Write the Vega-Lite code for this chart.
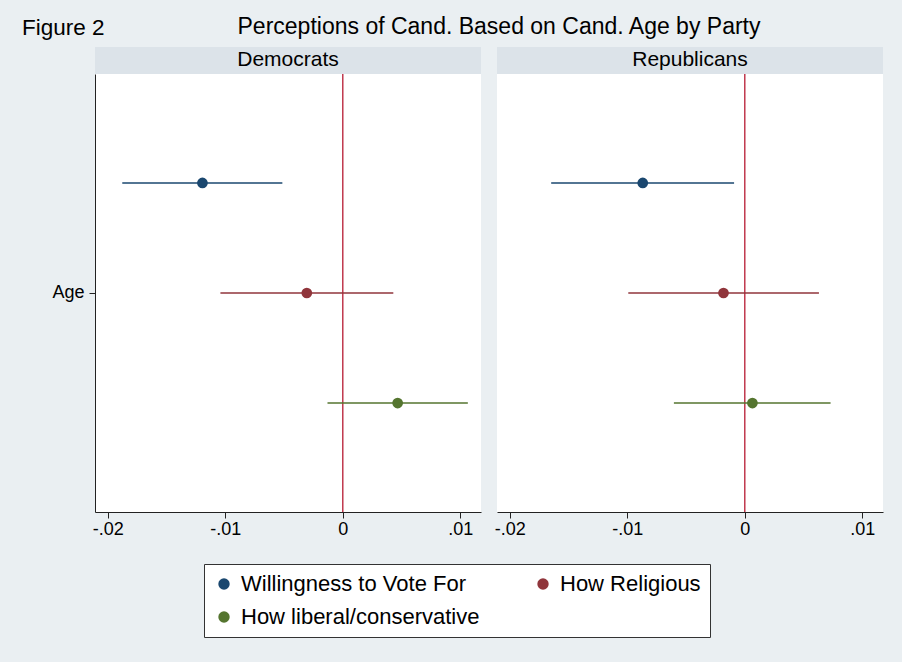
{
  "$schema": "https://vega.github.io/schema/vega-lite/v6.json",
  "background": "#eaeff2",
  "padding": {"left": 22, "top": 16, "right": 19, "bottom": 127},
  "config": {
    "font": "Liberation Sans",
    "view": {"stroke": null},
    "title": {"fontWeight": "normal", "color": "black", "font": "Liberation Sans"},
    "axis": {"grid": false, "title": null, "domainColor": "#222222", "tickColor": "#222222", "labelColor": "black", "labelFont": "Liberation Sans", "labelFontSize": 18, "tickSize": 6, "domainWidth": 1, "tickWidth": 1},
    "legend": {"labelFontSize": 22, "labelColor": "black", "labelFont": "Liberation Sans", "strokeColor": "#333333", "fillColor": "white", "padding": 9, "columnPadding": 52, "rowPadding": 11, "labelOffset": 6, "symbolSize": 130, "symbolType": "circle", "symbolStrokeWidth": 0, "labelLimit": 400}
  },
  "datasets": {
    "coefs": [
      {"party": "Democrats", "var": "Age", "outcome": "Willingness to Vote For", "est": -0.01194, "lo": -0.01876, "hi": -0.00514},
      {"party": "Democrats", "var": "Age", "outcome": "How Religious", "est": -0.00306, "lo": -0.01041, "hi": 0.0043},
      {"party": "Democrats", "var": "Age", "outcome": "How liberal/conservative", "est": 0.00467, "lo": -0.0013, "hi": 0.01064},
      {"party": "Republicans", "var": "Age", "outcome": "Willingness to Vote For", "est": -0.00868, "lo": -0.01647, "hi": -0.00091},
      {"party": "Republicans", "var": "Age", "outcome": "How Religious", "est": -0.00181, "lo": -0.00991, "hi": 0.00631},
      {"party": "Republicans", "var": "Age", "outcome": "How liberal/conservative", "est": 0.00065, "lo": -0.00603, "hi": 0.0073}
    ],
    "strips": [{"party": "Democrats"}, {"party": "Republicans"}]
  },
  "columns": 2,
  "spacing": {"row": 0, "column": 16},
  "bounds": "flush",
  "resolve": {"scale": {"color": "shared"}, "legend": {"color": "shared"}},
  "concat": [
    {
      "width": 386, "height": 27,
      "data": {"name": "strips"},
      "transform": [{"filter": "datum.party === 'Democrats'"}],
      "title": {"text": "Figure 2", "anchor": "start", "frame": "group", "dx": -73, "offset": -10, "fontSize": 22.5, "baseline": "alphabetic"},
      "view": {"fill": "#dce3e9", "stroke": null},
      "mark": {"type": "text", "fontSize": 21, "baseline": "middle", "dy": -1, "color": "black", "font": "Liberation Sans"},
      "encoding": {"text": {"field": "party"}}
    },
    {
      "width": 386, "height": 27,
      "data": {"name": "strips"},
      "transform": [{"filter": "datum.party === 'Republicans'"}],
      "title": {"text": "Perceptions of Cand. Based on Cand. Age by Party", "anchor": "middle", "frame": "group", "dx": -191, "offset": -10, "fontSize": 23, "baseline": "alphabetic"},
      "view": {"fill": "#dce3e9", "stroke": null},
      "mark": {"type": "text", "fontSize": 21, "baseline": "middle", "dy": -1, "color": "black", "font": "Liberation Sans"},
      "encoding": {"text": {"field": "party"}}
    },
    {
      "width": 386, "height": 438,
      "view": {"fill": "white", "stroke": null},
      "layer": [
        {
          "data": {"values": [{}]},
          "mark": {"type": "rule", "color": "#c0394d", "strokeWidth": 1.5},
          "encoding": {"x": {"datum": 0, "type": "quantitative"}}
        },
        {
          "data": {"name": "coefs"},
          "transform": [{"filter": "datum.party === 'Democrats'"}],
          "mark": {"type": "rule", "strokeWidth": 1.6},
          "encoding": {
            "x": {"field": "lo", "type": "quantitative", "scale": {"domain": [-0.02108, 0.01176], "nice": false, "zero": false},
                  "axis": {"values": [-0.02, -0.01, 0, 0.01], "labelPadding": 2, "labelExpr": "datum.value < 0 ? '-' + replace(format(-datum.value, '.2~f'), '0.', '.') : replace(format(datum.value, '.2~f'), '0.', '.')"}},
            "x2": {"field": "hi"},
            "y": {"field": "var", "type": "nominal", "scale": {"paddingInner": 0, "paddingOuter": 0}, "axis": {"labelPadding": 5, "labelAngle": 0}},
            "yOffset": {"field": "outcome", "type": "nominal", "scale": {"type": "point", "padding": 0.99, "domain": ["Willingness to Vote For", "How Religious", "How liberal/conservative"]}},
            "color": {"field": "outcome", "type": "nominal", "scale": {"domain": ["Willingness to Vote For", "How Religious", "How liberal/conservative"], "range": ["#1a476f", "#90353b", "#55752f"]}, "legend": {"orient": "none", "legendX": 109, "legendY": 517, "columns": 2, "title": null, "direction": "horizontal"}}
          }
        },
        {
          "data": {"name": "coefs"},
          "transform": [{"filter": "datum.party === 'Democrats'"}],
          "mark": {"type": "point", "filled": true, "size": 115, "opacity": 1},
          "encoding": {
            "x": {"field": "est", "type": "quantitative"},
            "y": {"field": "var", "type": "nominal"},
            "yOffset": {"field": "outcome", "type": "nominal"},
            "color": {"field": "outcome", "type": "nominal", "legend": {"orient": "none", "legendX": 109, "legendY": 517, "columns": 2, "title": null, "direction": "horizontal"}}
          }
        }
      ]
    },
    {
      "width": 386, "height": 438,
      "view": {"fill": "white", "stroke": null},
      "layer": [
        {
          "data": {"values": [{}]},
          "mark": {"type": "rule", "color": "#c0394d", "strokeWidth": 1.5},
          "encoding": {"x": {"datum": 0, "type": "quantitative"}}
        },
        {
          "data": {"name": "coefs"},
          "transform": [{"filter": "datum.party === 'Republicans'"}],
          "mark": {"type": "rule", "strokeWidth": 1.6},
          "encoding": {
            "x": {"field": "lo", "type": "quantitative", "scale": {"domain": [-0.02108, 0.01176], "nice": false, "zero": false},
                  "axis": {"values": [-0.02, -0.01, 0, 0.01], "labelPadding": 2, "labelExpr": "datum.value < 0 ? '-' + replace(format(-datum.value, '.2~f'), '0.', '.') : replace(format(datum.value, '.2~f'), '0.', '.')"}},
            "x2": {"field": "hi"},
            "y": {"field": "var", "type": "nominal", "scale": {"paddingInner": 0, "paddingOuter": 0}, "axis": null},
            "yOffset": {"field": "outcome", "type": "nominal", "scale": {"type": "point", "padding": 0.99, "domain": ["Willingness to Vote For", "How Religious", "How liberal/conservative"]}},
            "color": {"field": "outcome", "type": "nominal", "legend": {"orient": "none", "legendX": 109, "legendY": 517, "columns": 2, "title": null, "direction": "horizontal"}}
          }
        },
        {
          "data": {"name": "coefs"},
          "transform": [{"filter": "datum.party === 'Republicans'"}],
          "mark": {"type": "point", "filled": true, "size": 115, "opacity": 1},
          "encoding": {
            "x": {"field": "est", "type": "quantitative"},
            "y": {"field": "var", "type": "nominal"},
            "yOffset": {"field": "outcome", "type": "nominal"},
            "color": {"field": "outcome", "type": "nominal", "legend": {"orient": "none", "legendX": 109, "legendY": 517, "columns": 2, "title": null, "direction": "horizontal"}}
          }
        }
      ]
    }
  ]
}
